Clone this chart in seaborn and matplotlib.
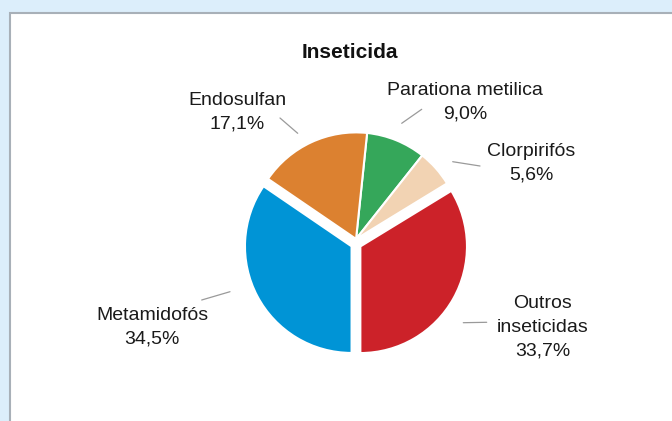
import numpy as np
import seaborn as sns
import matplotlib.pyplot as plt
from matplotlib.patches import Rectangle
from matplotlib.lines import Line2D

sns.set_theme(style="white")
plt.rcParams['font.family'] = ['Liberation Sans', 'DejaVu Sans']

# dados (ordem horária a partir do topo)
title = "Inseticida"
labels = ["Parationa metilica", "Clorpirifós", "Outros\ninseticidas", "Metamidofós", "Endosulfan"]
shares = [9.0, 5.6, 33.7, 34.5, 17.1]
groups = ["top", "top", "right", "left", "top"]
colors = ["#35a75a", "#f2d3b3", "#cc2229", "#0094d6", "#dc8130"]

W, H = 672, 421
CX, CY, R = 356, 244, 106.6   # centro e raio do pie em pixels

# posição dos rótulos e das linhas de chamada (pixels, origem no topo)
label_xy = [(465, 102), (531, 163), (543, 327), (152, 327), (237, 112)]
leader = [((401.7, 123.3), (421.7, 109.3)),
          ((452.7, 161.7), (480, 166)),
          ((463.3, 322.7), (486.7, 322.3)),
          ((201.7, 300), (230, 291.7)),
          ((280, 118), (297.7, 133.3))]


def fx(x, y):
    return (x / W, 1 - y / H)


fig = plt.figure(figsize=(W / 100, H / 100), dpi=100, facecolor="#dceefb")
fig.add_artist(Rectangle((9.5 / W, -0.1), 1.2, 1 - 13 / H + 0.1,
                         transform=fig.transFigure, facecolor="white",
                         edgecolor="#a8b0b8", lw=1.5, zorder=-1))

ax = fig.add_axes([0, 0, 1, 1])
ax.set_facecolor("none")

start = -90 + 360 * sum(shares[:3]) / sum(shares)
wedges, _ = ax.pie(shares, colors=colors, startangle=start, counterclock=False,
                   wedgeprops=dict(edgecolor="white", linewidth=1.5))

# separar os três grupos
mids = [np.deg2rad((w.theta1 + w.theta2) / 2) for w in wedges]
shift = 0.047
for g in set(groups):
    idx = [i for i, gg in enumerate(groups) if gg == g]
    vx = sum(shares[i] * np.cos(mids[i]) for i in idx)
    vy = sum(shares[i] * np.sin(mids[i]) for i in idx)
    ang = np.arctan2(vy, vx)
    for i in idx:
        wedges[i].set_center((shift * np.cos(ang), shift * np.sin(ang)))

ax.set_xlim(-CX / R, (W - CX) / R)
ax.set_ylim(-(H - CY) / R, CY / R)
ax.axis("off")

fig.text(*fx(350, 52), title, ha="center", va="center", fontsize=15,
         fontweight="bold", color="#111111")

for lab, v, (x, y), (p0, p1) in zip(labels, shares, label_xy, leader):
    txt = lab + "\n" + f"{v:.1f}%".replace(".", ",")
    fig.text(*fx(x, y), txt, ha="center", va="center", fontsize=14,
             color="#1a1a1a", linespacing=1.5)
    a, b = fx(*p0), fx(*p1)
    fig.add_artist(Line2D([a[0], b[0]], [a[1], b[1]], transform=fig.transFigure,
                          color="#9a9a9a", lw=0.9))

fig.savefig("out.png", dpi=100, facecolor=fig.get_facecolor())
